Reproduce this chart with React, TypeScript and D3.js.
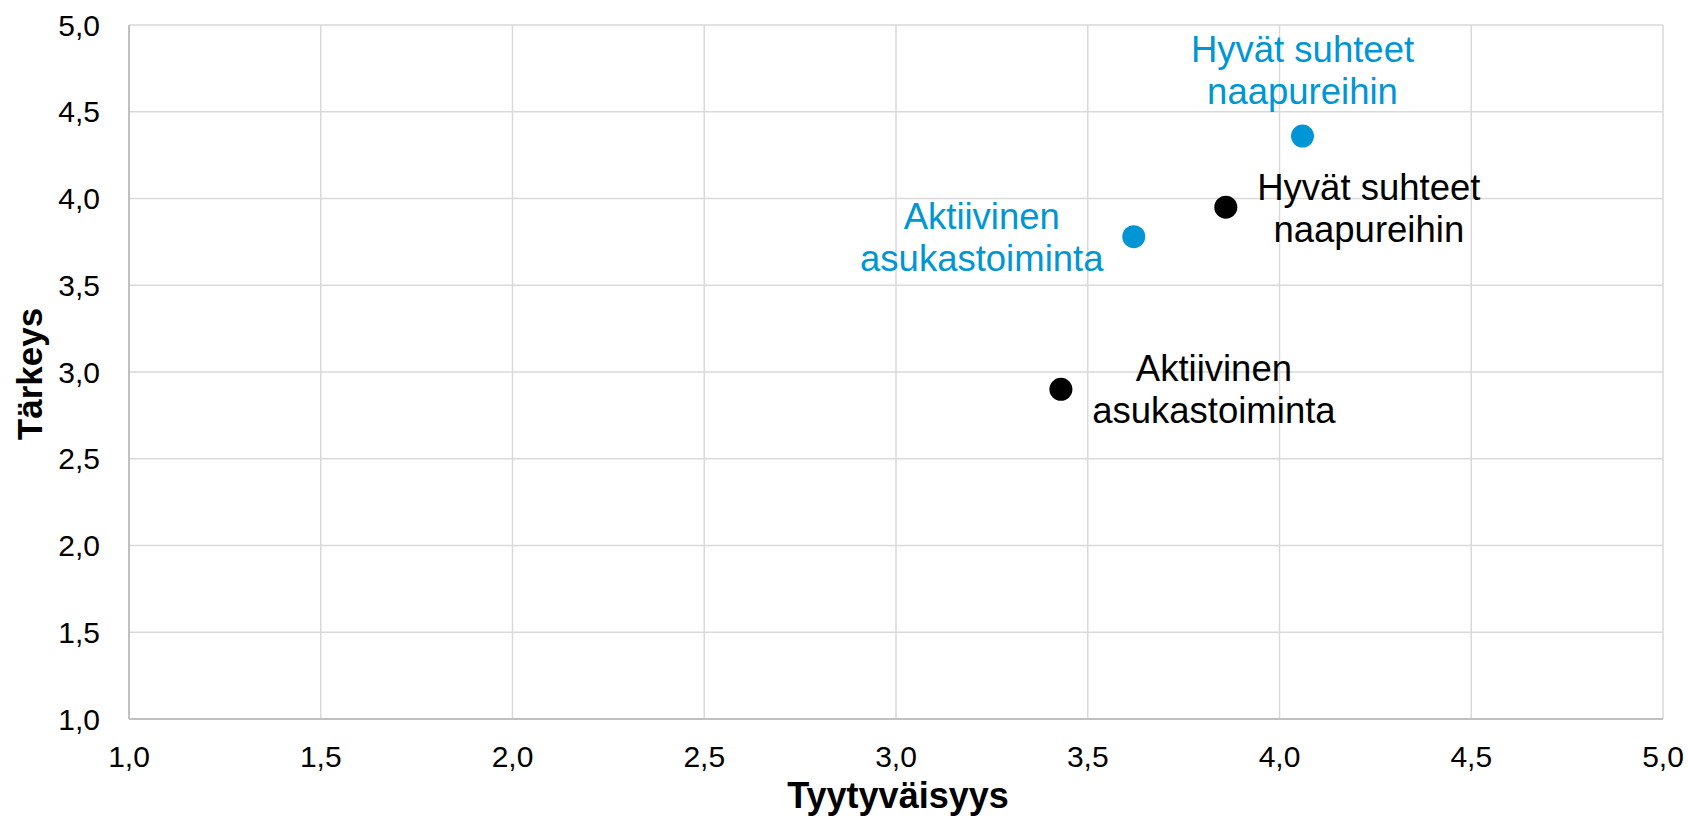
import * as d3 from "d3";

// Tyytyväisyys (x) ja tärkeys (y)
const labels = ["Hyvät suhteet naapureihin", "Aktiivinen asukastoiminta"];
const blueX = [4.06, 3.62];
const blueY = [4.36, 3.78];
const blackX = [3.86, 3.43];
const blackY = [3.95, 2.9];
const ticks = [1.0, 1.5, 2.0, 2.5, 3.0, 3.5, 4.0, 4.5, 5.0];

// label placement relative to the dot: [dx of text centre, dy of first baseline]
const blueOffsets = [
  [0, -74],
  [-152, -8],
];
const blackOffsets = [
  [143, -7],
  [153, -8],
];

const W = 1688;
const H = 823;
const margin = { top: 25, right: 25, bottom: 104, left: 129 };
const BLUE = "#0096d6";
const FONT = "'Liberation Sans', Arial, sans-serif";

const fmt = (v: number) => v.toFixed(1).replace(".", ",");

function wrap(label: string) {
  // split into two lines at the last word, as in the original
  const words = label.split(" ");
  return [words.slice(0, -1).join(" "), words[words.length - 1]];
}

export default function App() {
  const x = d3
    .scaleLinear()
    .domain([1, 5])
    .range([margin.left, W - margin.right]);
  const y = d3
    .scaleLinear()
    .domain([1, 5])
    .range([H - margin.bottom, margin.top]);

  const series = [
    { xs: blueX, ys: blueY, color: BLUE, offsets: blueOffsets },
    { xs: blackX, ys: blackY, color: "#000000", offsets: blackOffsets },
  ];

  return (
    <svg
      width={W}
      height={H}
      style={{ position: "absolute", left: 0, top: 0, background: "#fff" }}
      fontFamily={FONT}
    >
      {/* grid */}
      {ticks.map((t) => (
        <line
          key={"gx" + t}
          x1={x(t)}
          x2={x(t)}
          y1={y(1)}
          y2={y(5)}
          stroke="#d9d9d9"
          strokeWidth={1.5}
        />
      ))}
      {ticks.map((t) => (
        <line
          key={"gy" + t}
          x1={x(1)}
          x2={x(5)}
          y1={y(t)}
          y2={y(t)}
          stroke="#d9d9d9"
          strokeWidth={1.5}
        />
      ))}
      {/* axes */}
      <line x1={x(1)} x2={x(1)} y1={y(1)} y2={y(5)} stroke="#c0c0c0" strokeWidth={2} />
      <line x1={x(1)} x2={x(5)} y1={y(1)} y2={y(1)} stroke="#c0c0c0" strokeWidth={2} />

      {/* tick labels */}
      {ticks.map((t) => (
        <text
          key={"ty" + t}
          x={margin.left - 29}
          y={y(t)}
          dy="0.35em"
          textAnchor="end"
          fontSize={30}
          fill="#000"
        >
          {fmt(t)}
        </text>
      ))}
      {ticks.map((t) => (
        <text
          key={"tx" + t}
          x={x(t)}
          y={y(1) + 48}
          textAnchor="middle"
          fontSize={30}
          fill="#000"
        >
          {fmt(t)}
        </text>
      ))}

      {/* axis titles */}
      <text
        x={(x(1) + x(5)) / 2 + 2}
        y={808}
        textAnchor="middle"
        fontSize={36}
        fontWeight="bold"
      >
        Tyytyväisyys
      </text>
      <text
        transform={`translate(42,${(y(1) + y(5)) / 2 + 2}) rotate(-90)`}
        textAnchor="middle"
        fontSize={35}
        fontWeight="bold"
      >
        Tärkeys
      </text>

      {/* points and labels */}
      {series.map((s, si) =>
        s.xs.map((xv, i) => {
          const cx = x(xv);
          const cy = y(s.ys[i]);
          const [dx, dy] = s.offsets[i];
          const lines = wrap(labels[i]);
          return (
            <g key={si + "-" + i}>
              <circle cx={cx} cy={cy} r={11.5} fill={s.color} />
              {lines.map((ln, li) => (
                <text
                  key={li}
                  x={cx + dx}
                  y={cy + dy + li * 42}
                  textAnchor="middle"
                  fontSize={36.5}
                  fill={s.color}
                >
                  {ln}
                </text>
              ))}
            </g>
          );
        })
      )}
    </svg>
  );
}
